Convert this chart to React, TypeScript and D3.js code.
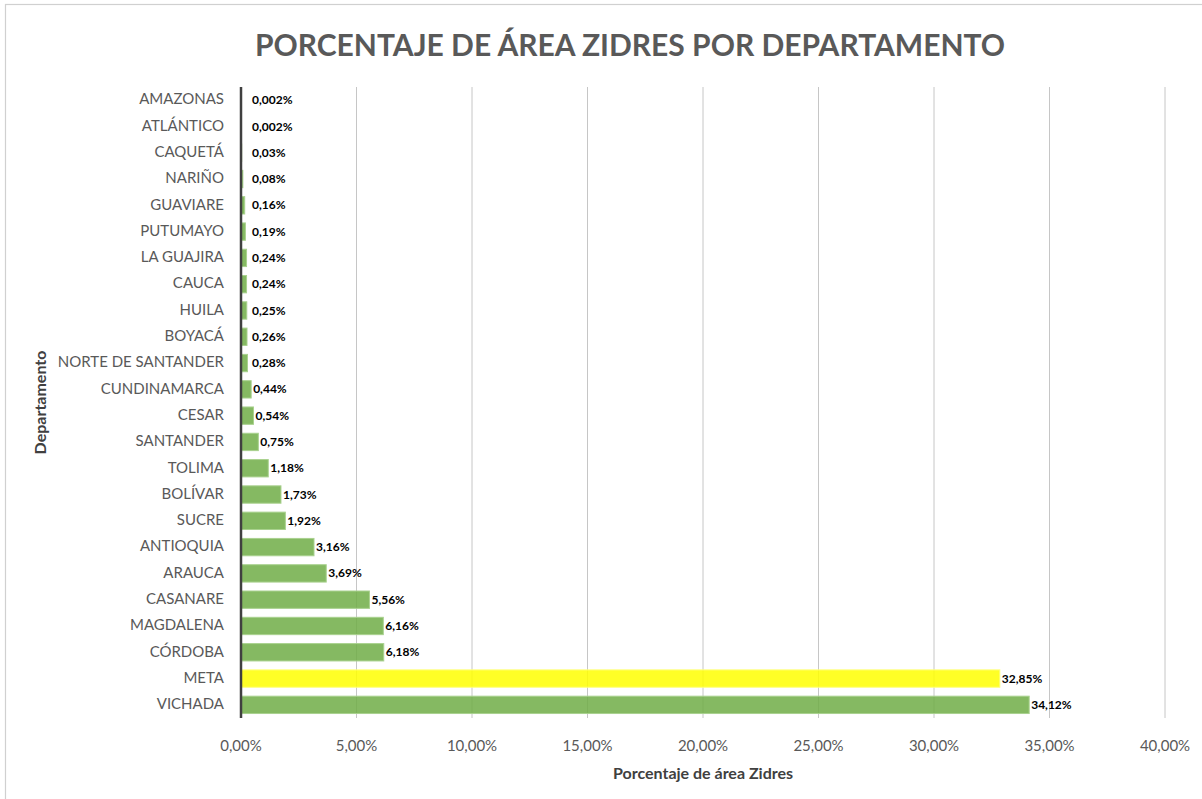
import React, { useRef, useEffect } from 'react';
import * as d3 from 'd3';

const DEPARTAMENTOS = [
  'AMAZONAS', 'ATLÁNTICO', 'CAQUETÁ', 'NARIÑO', 'GUAVIARE', 'PUTUMAYO',
  'LA GUAJIRA', 'CAUCA', 'HUILA', 'BOYACÁ', 'NORTE DE SANTANDER',
  'CUNDINAMARCA', 'CESAR', 'SANTANDER', 'TOLIMA', 'BOLÍVAR', 'SUCRE',
  'ANTIOQUIA', 'ARAUCA', 'CASANARE', 'MAGDALENA', 'CÓRDOBA', 'META', 'VICHADA',
];
const PORCENTAJES = [
  0.002, 0.002, 0.03, 0.08, 0.16, 0.19, 0.24, 0.24, 0.25, 0.26, 0.28,
  0.44, 0.54, 0.75, 1.18, 1.73, 1.92, 3.16, 3.69, 5.56, 6.16, 6.18, 32.85, 34.12,
];
const ETIQUETAS = [
  '0,002%', '0,002%', '0,03%', '0,08%', '0,16%', '0,19%', '0,24%', '0,24%',
  '0,25%', '0,26%', '0,28%', '0,44%', '0,54%', '0,75%', '1,18%', '1,73%',
  '1,92%', '3,16%', '3,69%', '5,56%', '6,16%', '6,18%', '32,85%', '34,12%',
];
const RESALTADO = 'META';
const TICKS = [0, 5, 10, 15, 20, 25, 30, 35, 40];

const width = 1202;
const height = 799;
const marginLeft = 241;
const marginRight = 37;
const marginTop = 87;
const marginBottom = 81;
const font = 'Lato, "Open Sans", sans-serif';

const x = d3.scaleLinear()
  .domain([0, 40])
  .range([marginLeft, width - marginRight]);

const y = d3.scaleBand()
  .domain(DEPARTAMENTOS)
  .range([marginTop, height - marginBottom])
  .paddingInner(0.34)
  .paddingOuter(0.17);

const fmtTick = (d: number) => d.toFixed(2).replace('.', ',') + '%';

function drawChart(g: SVGGElement) {
  const root = d3.select(g);
  root.selectAll('*').remove();

  // marco
  root.append('rect')
    .attr('x', 5.5).attr('y', 4.5)
    .attr('width', 1210).attr('height', 820)
    .attr('fill', 'white')
    .attr('stroke', '#d0d0d0')
    .attr('stroke-width', 1.2);

  root.append('text')
    .attr('x', (marginLeft + width - marginRight) / 2 - 73)
    .attr('y', 56)
    .attr('text-anchor', 'middle')
    .attr('font-family', font)
    .attr('font-weight', 'bold')
    .attr('font-size', 30)
    .attr('fill', '#595959')
    .text('PORCENTAJE DE ÁREA ZIDRES POR DEPARTAMENTO');

  // cuadrícula
  root.append('g')
    .selectAll('line')
    .data(TICKS.slice(1))
    .join('line')
    .attr('x1', d => x(d)).attr('x2', d => x(d))
    .attr('y1', marginTop).attr('y2', height - marginBottom)
    .attr('stroke', '#c6c6c6')
    .attr('stroke-width', 1);

  const data = DEPARTAMENTOS.map((d, i) => ({ name: d, value: PORCENTAJES[i], label: ETIQUETAS[i] }));

  root.append('g')
    .selectAll('rect')
    .data(data)
    .join('rect')
    .attr('x', x(0))
    .attr('y', d => y(d.name)!)
    .attr('width', d => x(d.value) - x(0))
    .attr('height', y.bandwidth())
    .attr('fill', d => d.name === RESALTADO ? '#ffff00' : '#70ad47')
    .attr('fill-opacity', 0.85)
    .attr('stroke', d => d.name === RESALTADO ? '#ffff7a' : '#a9d18e')
    .attr('stroke-width', 1);

  // eje vertical
  root.append('line')
    .attr('x1', x(0)).attr('x2', x(0))
    .attr('y1', marginTop).attr('y2', height - marginBottom)
    .attr('stroke', '#404040')
    .attr('stroke-width', 2.5);

  // etiquetas de valores
  root.append('g')
    .selectAll('text')
    .data(data)
    .join('text')
    .attr('x', d => Math.max(x(d.value), x(0) + 9) + 2)
    .attr('y', d => y(d.name)! + y.bandwidth() / 2 + 1)
    .attr('dominant-baseline', 'middle')
    .attr('font-family', font)
    .attr('font-weight', 'bold')
    .attr('font-size', 12)
    .attr('fill', '#000')
    .text(d => d.label);

  // categorías
  root.append('g')
    .selectAll('text')
    .data(DEPARTAMENTOS)
    .join('text')
    .attr('x', x(0) - 17)
    .attr('y', d => y(d)! + y.bandwidth() / 2 + 0.5)
    .attr('text-anchor', 'end')
    .attr('dominant-baseline', 'middle')
    .attr('font-family', font)
    .attr('font-size', 15)
    .attr('fill', '#595959')
    .text(d => d);

  // ticks eje x
  root.append('g')
    .selectAll('text')
    .data(TICKS)
    .join('text')
    .attr('x', d => x(d))
    .attr('y', 747)
    .attr('text-anchor', 'middle')
    .attr('dominant-baseline', 'middle')
    .attr('font-family', font)
    .attr('font-size', 15)
    .attr('fill', '#595959')
    .text(fmtTick);

  root.append('text')
    .attr('x', (marginLeft + width - marginRight) / 2)
    .attr('y', 775)
    .attr('text-anchor', 'middle')
    .attr('dominant-baseline', 'middle')
    .attr('font-family', font)
    .attr('font-weight', 'bold')
    .attr('font-size', 16)
    .attr('fill', '#404040')
    .text('Porcentaje de área Zidres');

  root.append('text')
    .attr('transform', `translate(42,${(marginTop + height - marginBottom) / 2}) rotate(-90)`)
    .attr('text-anchor', 'middle')
    .attr('dominant-baseline', 'middle')
    .attr('font-family', font)
    .attr('font-weight', 'bold')
    .attr('font-size', 16)
    .attr('fill', '#404040')
    .text('Departamento');
}

const App = () => {
  const gRef = useRef<SVGGElement>(null);

  useEffect(() => {
    if (gRef.current) drawChart(gRef.current);
  }, []);

  return (
    <svg
      width={width}
      height={height}
      style={{ position: 'absolute', left: 0, top: 0, background: 'white' }}
    >
      <g ref={gRef}></g>
    </svg>
  );
};

export default App;
